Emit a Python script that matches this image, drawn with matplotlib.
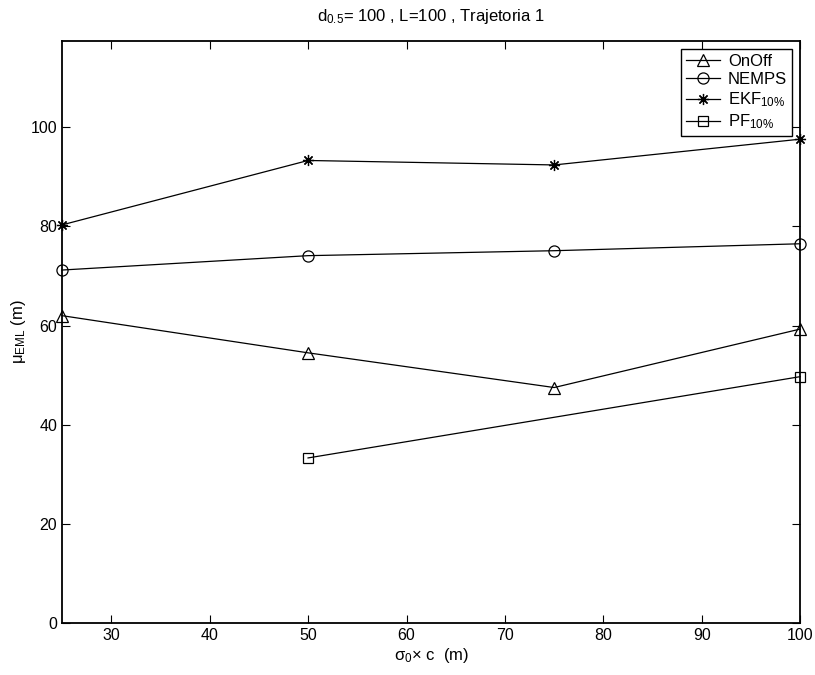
import numpy as np
import matplotlib
matplotlib.use("Agg")
from matplotlib import pyplot as plt

plt.rcParams['font.family'] = ['Liberation Sans', 'DejaVu Sans']
plt.rcParams['mathtext.fontset'] = 'custom'
plt.rcParams['mathtext.rm'] = 'Liberation Sans'
plt.rcParams['mathtext.it'] = 'Liberation Sans'
plt.rcParams['mathtext.default'] = 'regular'

sigma = [25, 50, 75, 100]
onoff = [62.0, 54.5, 47.5, 59.3]
nemps = [71.2, 74.1, 75.1, 76.5]
ekf = [80.3, 93.3, 92.4, 97.6]
pf_x = [50, 100]
pf = [33.3, 49.7]

fig = plt.figure(figsize=(8.15, 6.75), dpi=100)
ax = fig.add_axes([0.076, 0.077, 0.906, 0.863])

kw = dict(color='black', lw=0.9, markerfacecolor='none', markeredgecolor='black',
          markeredgewidth=0.9, clip_on=False, zorder=3)
ax.plot(sigma, onoff, marker='^', markersize=8, label='OnOff', **kw)
ax.plot(sigma, nemps, marker='o', markersize=8, label='NEMPS', **kw)
ax.plot(sigma, ekf, marker=(8, 2, 0), markersize=8, label=r'EKF$_{10\%}$', **kw)
ax.plot(pf_x, pf, marker='s', markersize=6.5, label=r'PF$_{10\%}$', **kw)

ax.set_xlim(25, 100)
ax.set_ylim(0, 117.5)
ax.set_xticks(np.arange(30, 101, 10))
ax.set_yticks(np.arange(0, 101, 20))
ax.tick_params(direction='in', top=True, right=True, labelsize=11.5, length=6, width=0.8)
for s in ax.spines.values():
    s.set_linewidth(1.3)

ax.set_title(r'd$_{0.5}$= 100 , L=100 , Trajetoria 1', fontsize=12, pad=14)
ax.set_xlabel(r'$\sigma_0$$\times$ c  (m)', fontsize=12, labelpad=2)
ax.set_ylabel(r'$\mu_{EML}$ (m)', fontsize=12, labelpad=2)

leg = ax.legend(loc='upper right', fontsize=12, fancybox=False, framealpha=1,
                edgecolor='black', handlelength=2.0, borderaxespad=0.5,
                labelspacing=0.2, handletextpad=0.5, borderpad=0.3)
leg.get_frame().set_linewidth(1.0)
leg.set_zorder(4)

fig.savefig("out.png", dpi=100)
